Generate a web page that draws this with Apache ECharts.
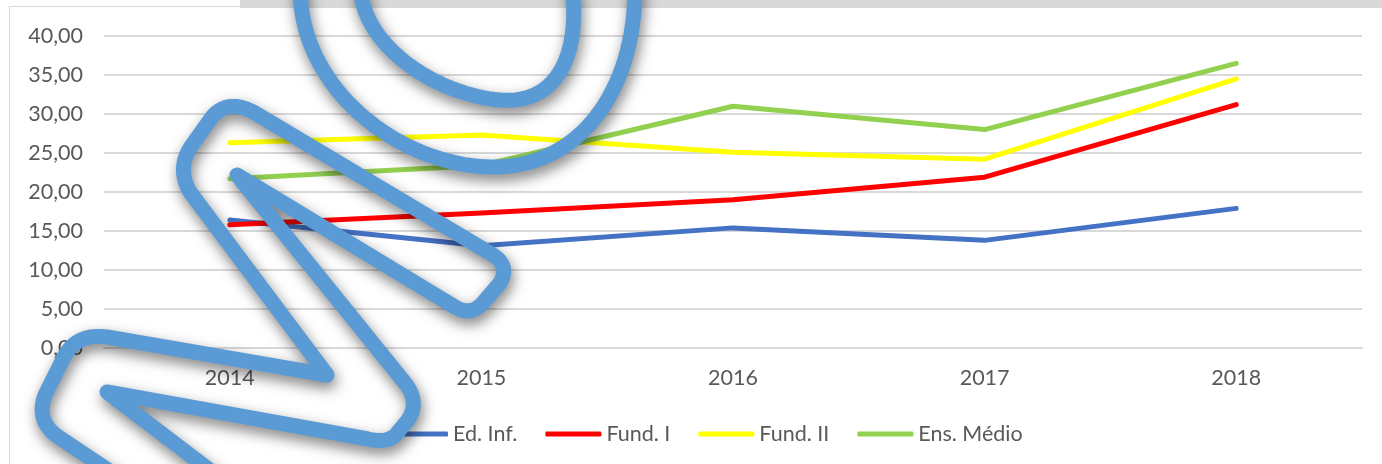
<!DOCTYPE html>
<html>
<head>
<meta charset="utf-8">
<script src="https://cdn.jsdelivr.net/npm/echarts@6/dist/echarts.min.js"></script>
<style>
  html, body { margin: 0; padding: 0; background: #ffffff; }
  #main { width: 1382px; height: 464px; }
</style>
</head>
<body>
<div id="main"></div>
<script>
// anos (categorias do eixo x)
var years = ['2014', '2015', '2016', '2017', '2018'];

// valores de cada série
var edInf = [16.4, 13.1, 15.4, 13.8, 17.9];
var fundI = [15.8, 17.3, 19.0, 21.9, 31.2];
var fundII = [26.3, 27.3, 25.1, 24.2, 34.5];
var ensMedio = [21.7, 23.4, 31.0, 28.0, 36.5];

var seriesNames = ['Ed. Inf.', 'Fund. I', 'Fund. II', 'Ens. Médio'];
var seriesColors = ['#4472C4', '#FF0000', '#FFFF00', '#92D050'];

// rabiscos azuis desenhados por cima do gráfico (anotação, não são dados)
var scribblePaths = [
    'M 300,-12 C 300,90 400,165 490,167 C 580,169 635,90 635,-12',
    'M 360,-12 C 365,50 440,95 500,100 C 560,105 580,50 572,-12',
    'M 120,478 L 60,438 Q 35,422 45,395 L 65,355 Q 78,333 107,337 L 327,375 ' +
    'L 190,192 Q 176,168 192,145 L 212,117 Q 228,98 255,113 L 493,255 ' +
    'Q 510,266 500,283 L 482,304 Q 470,316 455,307 L 237,175 L 405,383 ' +
    'Q 420,402 408,420 L 398,432 Q 390,444 368,439 L 107,392 L 220,478'
];

var fontFamily = 'Lato, "Open Sans", sans-serif';
var textColor = '#595959';

function formatNumber(v) {
    return v.toFixed(2).replace('.', ',');
}

// transforma o texto do caminho (M, L, Q, C absolutos) em uma lista de pontos
function pathToPoints(d) {
    var tokens = d.replace(/,/g, ' ').trim().split(/\s+/);
    var pts = [];
    var cur = [0, 0];
    var i = 0;
    var steps = 16;
    while (i < tokens.length) {
        var cmd = tokens[i++];
        if (cmd == 'M' || cmd == 'L') {
            cur = [+tokens[i], +tokens[i + 1]];
            i += 2;
            pts.push(cur);
        } else if (cmd == 'Q') {
            var c1 = [+tokens[i], +tokens[i + 1]];
            var e1 = [+tokens[i + 2], +tokens[i + 3]];
            i += 4;
            for (var s = 1; s <= steps; s++) {
                var t = s / steps, u = 1 - t;
                pts.push([
                    u * u * cur[0] + 2 * u * t * c1[0] + t * t * e1[0],
                    u * u * cur[1] + 2 * u * t * c1[1] + t * t * e1[1]
                ]);
            }
            cur = e1;
        } else if (cmd == 'C') {
            var a = [+tokens[i], +tokens[i + 1]];
            var b = [+tokens[i + 2], +tokens[i + 3]];
            var e2 = [+tokens[i + 4], +tokens[i + 5]];
            i += 6;
            for (var k = 1; k <= steps * 2; k++) {
                var t2 = k / (steps * 2), v = 1 - t2;
                pts.push([
                    v * v * v * cur[0] + 3 * v * v * t2 * a[0] + 3 * v * t2 * t2 * b[0] + t2 * t2 * t2 * e2[0],
                    v * v * v * cur[1] + 3 * v * v * t2 * a[1] + 3 * v * t2 * t2 * b[1] + t2 * t2 * t2 * e2[1]
                ]);
            }
            cur = e2;
        }
    }
    return pts;
}

function buildSeries() {
    var allData = [edInf, fundI, fundII, ensMedio];
    var list = [];
    for (var i = 0; i < allData.length; i++) {
        list.push({
            name: seriesNames[i],
            type: 'line',
            data: allData[i],
            symbol: 'none',
            smooth: false,
            lineStyle: { width: 5, color: seriesColors[i], cap: 'round', join: 'round' },
            itemStyle: { color: seriesColors[i] },
            z: 2
        });
    }
    return list;
}

function buildGraphic() {
    var items = [
        // barra cinza no topo
        {
            type: 'rect', silent: true, z: 0,
            shape: { x: 240, y: 0, width: 1142, height: 8 },
            style: { fill: '#d9d9d9' }
        },
        // borda da área do gráfico
        {
            type: 'rect', silent: true, z: 0,
            shape: { x: 9.5, y: 6.5, width: 1400, height: 500 },
            style: { fill: 'none', stroke: '#d9d9d9', lineWidth: 1 }
        }
    ];
    scribblePaths.forEach(function(d) {
        items.push({
            type: 'polyline', silent: true, z: 100,
            shape: { points: pathToPoints(d) },
            style: {
                fill: 'none',
                stroke: '#5B9BD5',
                lineWidth: 15,
                lineJoin: 'round',
                lineCap: 'round',
                shadowBlur: 14,
                shadowColor: 'rgba(0, 0, 0, 0.5)',
                shadowOffsetX: 2,
                shadowOffsetY: 6
            }
        });
    });
    return items;
}

var myChart = echarts.init(document.getElementById('main'));

var option = {
    backgroundColor: '#ffffff',
    animation: false,
    textStyle: { fontFamily: fontFamily },
    grid: { left: 104, right: 20, top: 36, bottom: 116, containLabel: false },
    legend: {
        data: seriesNames,
        left: 387,
        top: 418,
        icon: 'roundRect',
        itemWidth: 56,
        itemHeight: 5,
        itemGap: 28,
        textStyle: { fontFamily: fontFamily, fontSize: 21.5, color: textColor }
    },
    xAxis: {
        type: 'category',
        data: years,
        boundaryGap: true,
        axisLine: { show: true, lineStyle: { color: '#d9d9d9', width: 2 } },
        axisTick: { show: false },
        axisLabel: { color: textColor, fontSize: 21.5, fontFamily: fontFamily, margin: 19 }
    },
    yAxis: {
        type: 'value',
        min: 0,
        max: 40,
        interval: 5,
        axisLine: { show: false },
        axisTick: { show: false },
        splitLine: { lineStyle: { color: '#d9d9d9', width: 2 } },
        axisLabel: {
            color: textColor, fontSize: 21.5, fontFamily: fontFamily, margin: 21,
            formatter: formatNumber
        }
    },
    graphic: buildGraphic(),
    series: buildSeries()
};

myChart.setOption(option);
</script>
</body>
</html>
